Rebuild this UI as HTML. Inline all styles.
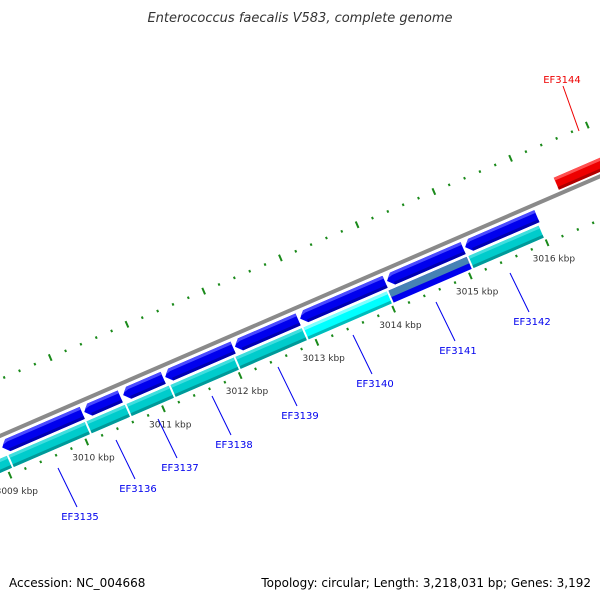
<!DOCTYPE html>
<html><head><meta charset="utf-8"><style>
html,body{margin:0;padding:0;background:#fff;}
svg{display:block;font-family:"DejaVu Sans","Liberation Sans",sans-serif;}
</style></head><body>
<svg id="map" width="600" height="600" viewBox="0 0 600 600">
<text x="300" y="22" text-anchor="middle" font-size="13" font-style="italic" fill="#333">Enterococcus faecalis V583, complete genome</text>
<g id="strip" transform="translate(158.8,367.2) rotate(-23.4)"></g>
<g id="labels"></g>
<text x="9" y="587" font-size="12" fill="#000">Accession: NC_004668</text>
<text x="591" y="587" font-size="12" fill="#000" text-anchor="end">Topology: circular; Length: 3,218,031 bp; Genes: 3,192</text>
</svg>
<script>
const tickKbp = [3009,3010,3011,3012,3013,3014,3015,3016];
const blueStarts = [-175.6,-86.2,-43.8,2,78,149,243.7,328.8];
const blueEnds = [-88.4,-47,-0.2,76,146.8,241.6,326.6,407];
const cyanStarts = [-230,-173.7,-88.8,-45.2,2.7,73.5,147.6,240.2,327.3];
const cyanEnds = [-173.7,-88.8,-45.2,2.7,73.5,147.6,240.2,327.3,405.8];
const cyanColors = ["#00cccc","#00cccc","#00cccc","#00cccc","#00cccc","#00cccc","#00ffff","blue","#00cccc"];
const redStart = 437.7, redEnd = 760;
const geneNames = ["EF3135","EF3136","EF3137","EF3138","EF3139","EF3140","EF3141","EF3142"];
const geneLabelX = [80,138,180,234,300,375,458,532];
const geneLabelY = [520,492,471,448,419,387,354,325];

const NS="http://www.w3.org/2000/svg";
const strip=document.getElementById('strip');
const labels=document.getElementById('labels');
function kx(k){return 83.6*(k-3011.146);}
function mk(tag,attrs,parent){const e=document.createElementNS(NS,tag);for(const k in attrs)e.setAttribute(k,attrs[k]);parent.appendChild(e);return e;}

// backbone
const bb=mk('line',{x1:-400,y1:0,x2:900,y2:0,stroke:'#8a8a8a','stroke-width':4},strip);



// ticks
for(let k=3007;k<=3019.001;k+=0.2){
  const kr=Math.round(k*10)/10;
  const major=Math.abs(kr-Math.round(kr))<0.01;
  const a=kx(kr);
  [40,-52].forEach(b=>{
    const len=major?7:2.5;
    const t=mk('rect',{x:a-1,y:b-len/2,width:2,height:len,fill:'#1a8a1a'},strip);
    
    
  });
}
// tick labels (global coords)
tickKbp.forEach(k=>{
  const a=kx(k), b=57;
  const c=Math.cos(23.4*Math.PI/180), s=Math.sin(23.4*Math.PI/180);
  const X=158.8+a*c+b*s, Y=367.2-a*s+b*c;
  const t=mk('text',{x:X,y:Y+3,'font-size':9,fill:'#333','text-anchor':'middle'},labels);
  t.textContent=k+' kbp';
  
  
});

// blue reverse genes (arrow pointing left)
blueStarts.forEach((s,i)=>{
  const e=blueEnds[i], t=5, bt=18, m=(t+bt)/2, h=6;
  const g=mk('g',{},strip);
  
  
  mk('polygon',{points:`${s},${m} ${s+h},${t} ${e},${t} ${e},${bt} ${s+h},${bt}`,fill:'#0000ee'},g);
  mk('polygon',{points:`${s+1.5},${m-2} ${s+h},${t} ${e},${t} ${e},${t+3} ${s+h+1},${t+3}`,fill:'#4a4aff'},g);
  mk('rect',{x:s+h,y:bt-3,width:e-s-h,height:3,fill:'#0000b0'},g);
});

// cyan lane
cyanStarts.forEach((s,i)=>{
  const e=cyanEnds[i], t=21, bt=34;
  const g=mk('g',{},strip);
  
  
  if(cyanColors[i]==='blue'){
    mk('rect',{x:s+1,y:t,width:e-s-2,height:bt-t,fill:'#0000ee'},g);
    mk('rect',{x:s+1,y:t,width:e-s-2,height:7,fill:'#4682b4'},g);
  } else {
    const bright=cyanColors[i]==='#00ffff';
    mk('rect',{x:s+1,y:t,width:e-s-2,height:bt-t,fill:cyanColors[i]},g);
    mk('rect',{x:s+1,y:t,width:e-s-2,height:3,fill:bright?'#80ffff':'#40dede'},g);
    mk('rect',{x:s+1,y:bt-3,width:e-s-2,height:3,fill:bright?'#00bbbb':'#009999'},g);
  }
});

// red gene
const rg=mk('g',{},strip);


mk('rect',{x:redStart,y:-17,width:redEnd-redStart,height:13,fill:'#ee0000'},rg);
mk('rect',{x:redStart,y:-17,width:redEnd-redStart,height:3,fill:'#ff5050'},rg);
mk('rect',{x:redStart,y:-7,width:redEnd-redStart,height:3,fill:'#b00000'},rg);

// gene labels with leader lines
geneNames.forEach((n,i)=>{
  const X=geneLabelX[i], Y=geneLabelY[i];
  const l=mk('line',{x1:X-22,y1:Y-52,x2:X-3,y2:Y-13,stroke:'#0000ee','stroke-width':1},labels);
  
  
  const t=mk('text',{x:X,y:Y,'font-size':10,fill:'#0000ee','text-anchor':'middle'},labels);
  t.textContent=n;
  
  
});
const rl=mk('line',{x1:563,y1:86,x2:579,y2:131,stroke:'#ee0000','stroke-width':1},labels);


const rt=mk('text',{x:562,y:83,'font-size':10,fill:'#ee0000','text-anchor':'middle'},labels);
rt.textContent='EF3144';


</script>
</body></html>
